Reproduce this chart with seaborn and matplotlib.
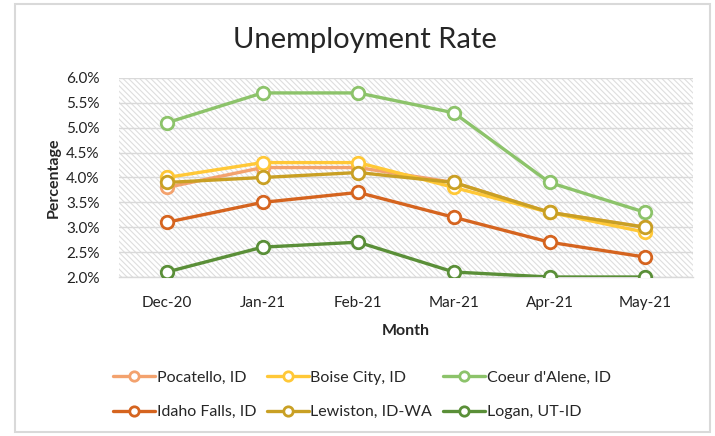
import matplotlib
matplotlib.use("Agg")
import matplotlib.pyplot as plt
import seaborn as sns
import pandas as pd
from matplotlib.patches import Rectangle
from matplotlib.ticker import FuncFormatter

# data (percent)
months = ["Dec-20", "Jan-21", "Feb-21", "Mar-21", "Apr-21", "May-21"]
pocatello = [3.8, 4.2, 4.2, 3.9, 3.3, 3.0]
boise = [4.0, 4.3, 4.3, 3.8, 3.3, 2.9]
coeur = [5.1, 5.7, 5.7, 5.3, 3.9, 3.3]
idaho_falls = [3.1, 3.5, 3.7, 3.2, 2.7, 2.4]
lewiston = [3.9, 4.0, 4.1, 3.9, 3.3, 3.0]
logan = [2.1, 2.6, 2.7, 2.1, 2.0, 2.0]

cities = ["Pocatello, ID", "Boise City, ID", "Coeur d'Alene, ID",
          "Idaho Falls, ID", "Lewiston, ID-WA", "Logan, UT-ID"]
series = [pocatello, boise, coeur, idaho_falls, lewiston, logan]
colors = ["#F3A26E", "#FFC837", "#8CC36A", "#D5641F", "#C9A024", "#5A8F38"]

rows = []
for city, vals in zip(cities, series):
    for m, v in zip(months, vals):
        rows.append({"Month": m, "Rate": v, "City": city})
df = pd.DataFrame(rows)

sns.set_theme(style="white")
plt.rcParams['font.family'] = ['Lato', 'DejaVu Sans']
plt.rcParams['hatch.linewidth'] = 0.8
plt.rcParams['hatch.color'] = '#dedede'

fig = plt.figure(figsize=(7.15, 4.36), dpi=100)
ax = fig.add_axes([119/715, 1 - 277/436, (693 - 119)/715, (277 - 78)/436])

# hatched plot area
ax.patch.set_facecolor("white")
ax.add_patch(Rectangle((0, 0), 1, 1, transform=ax.transAxes, facecolor="white",
                       edgecolor="#dedede", hatch="\\" * 6, lw=0, zorder=0))

sns.lineplot(data=df, x="Month", y="Rate", hue="City", hue_order=cities,
             palette=colors, marker="o", markersize=9, linewidth=2.4,
             sort=False, legend=False, ax=ax, zorder=3)
for line, c in zip(ax.lines, colors):
    line.set_markerfacecolor("white")
    line.set_markeredgecolor(c)
    line.set_markeredgewidth(2)

ax.set_ylim(2.0, 6.0)
ax.set_xlim(-0.5, 5.5)
ax.set_yticks([2.0 + 0.5 * i for i in range(9)])
ax.yaxis.set_major_formatter(FuncFormatter(lambda v, p: f"{v:.1f}%"))
ax.grid(axis="y", color="#d9d9d9", linewidth=1)
ax.set_axisbelow(True)
for s in ["top", "right", "left"]:
    ax.spines[s].set_visible(False)
ax.spines["bottom"].set_color("#d9d9d9")
ax.spines["bottom"].set_linewidth(1)
ax.tick_params(axis="y", length=0, labelsize=11, colors="#222222", pad=14)
ax.tick_params(axis="x", length=0, labelsize=11, colors="#222222", pad=14)

ax.set_xlabel("Month", fontsize=11.5, fontweight="bold", labelpad=10)
ax.set_ylabel("Percentage", fontsize=11.5, fontweight="bold", labelpad=4)
fig.text(365/715, 1 - 40/436, "Unemployment Rate", fontsize=21, ha="center", va="center")

# legend, row-major order like the original
order = [0, 3, 1, 4, 2, 5]
handles = [ax.lines[i] for i in order]
labels = [cities[i] for i in order]
fig.legend(handles, labels, ncol=3, loc="center", bbox_to_anchor=(362/715, 1 - 395/436),
           frameon=False, fontsize=11.5, handlelength=2.6, columnspacing=0.7,
           handletextpad=0.1, labelspacing=1.25, markerscale=0.75)

# chart border
fig.add_artist(Rectangle((15/715, 4/436), (710 - 15)/715, (432 - 4)/436,
                         transform=fig.transFigure, fill=False,
                         edgecolor="#d9d9d9", lw=1.5))

fig.savefig("out.png", dpi=100)
